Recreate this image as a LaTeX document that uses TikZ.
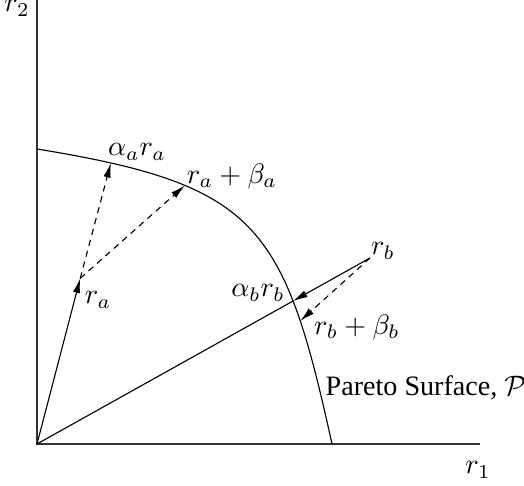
\documentclass[tikz,border=0pt]{standalone}
\usepackage{amsmath,amssymb}
\usepackage{fontspec}
\setmainfont{Liberation Serif}
\usepackage{tikz}
\usetikzlibrary{arrows.meta}

\begin{document}
\begin{tikzpicture}[every node/.style={font=\normalsize},
  axis/.style={draw=black!80,line width=0.45pt},
  tip/.tip={Latex[length=5.2pt,width=2.6pt]},
  arr/.style={-tip,line width=0.4pt},
  dsh/.style={arr,dash pattern=on 2.2pt off 1.8pt}]
\useasboundingbox (-0.4625,-0.525) rectangle (6.0875,5.55);
% axes
\coordinate (O) at (0,0);
\coordinate (ytop) at (0,5.55);
\coordinate (xend) at (5.5375,0);
\draw[axis](ytop)--(O)--(xend);
% Pareto surface
\draw[line width=0.4pt](0,3.6875) .. controls (2.75,3.2375) and (3.085,2.75) .. (3.6875,0)
  coordinate[pos=0.125](aa) coordinate[pos=0.29](ba) coordinate[pos=0.775](bb);
% points
\coordinate (ra) at (0.54,2.07);
\coordinate (rb) at (4.1625,2.325);
\coordinate (ab) at (3.2,1.787);
\draw[arr](O)--(ra);
\draw[dsh](ra)--(aa);
\draw[dsh](ra)--(ba);
\draw[line width=0.4pt](O)--(ab);
\draw[arr,tip-](ab)--(rb);
\draw[dsh](rb)--(bb);
% labels
\node(lr2) at (-0.25,5.45){$r_2$};
\node(lr1) at (5.5125,-0.325){$r_1$};
\node(laa) at (1.25,3.65){$\alpha_a r_a$};
\node(lba) at (2.4375,3.35){$r_a+\beta_a$};
\node(lra) at (0.7625,1.8){$r_a$};
\node(lab) at (2.7625,1.8875){$\alpha_b r_b$};
\node(lrb) at (4.325,2.4125){$r_b$};
\node(lbb) at (4.0,1.4625){$r_b+\beta_b$};
\node(lps) at (4.8625,0.7){Pareto Surface, $\mathcal{P}$};
\end{tikzpicture}
\end{document}
